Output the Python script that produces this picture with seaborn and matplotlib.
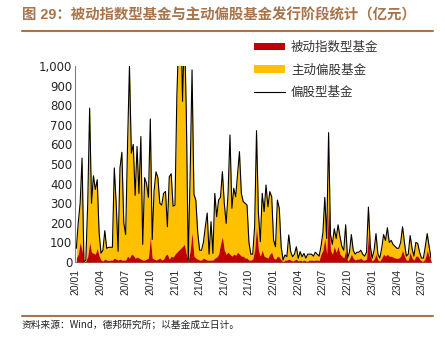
import numpy as np
import pandas as pd
import matplotlib
matplotlib.use("Agg")
import matplotlib.pyplot as plt
import matplotlib.dates as mdates
from matplotlib.patches import Patch
from matplotlib.lines import Line2D
from matplotlib.ticker import FuncFormatter, MultipleLocator
import seaborn as sns

# ---------------- data (weekly, 亿元) ----------------
start_date = "2020-01-03"
equity_total = [
    70, 200, 300, 530, 0, 10, 300, 785, 300, 440,
    370, 420, 150, 45, 60, 160, 70, 75, 75, 75,
    480, 300, 55, 480, 560, 200, 140, 600, 1000, 555,
    600, 340, 590, 350, 640, 90, 430, 400, 330, 730,
    115, 365, 460, 430, 300, 290, 350, 360, 180, 435,
    450, 285, 290, 850, 1150, 1300, 820, 1200, 750, 10,
    450, 980, 345, 316, 150, 60, 60, 100, 180, 250,
    40, 206, 44, 350, 231, 316, 330, 461, 300, 197,
    350, 648, 274, 376, 333, 450, 563, 350, 308, 300,
    290, 100, 40, 40, 180, 670, 250, 104, 350, 257,
    393, 282, 359, 333, 112, 78, 316, 274, 78, 10,
    36, 27, 138, 53, 27, 40, 78, 19, 53, 27,
    44, 20, 40, 40, 40, 30, 50, 40, 30, 80,
    150, 330, 120, 660, 140, 90, 170, 120, 190, 130,
    80, 60, 190, 20, 50, 140, 60, 40, 50, 50,
    60, 40, 30, 50, 280, 80, 20, 60, 145, 40,
    20, 70, 140, 110, 175, 100, 110, 90, 80, 70,
    70, 100, 180, 100, 30, 40, 135, 70, 30, 100,
    95, 50, 20, 20, 80, 145, 80, 20,
]
passive_index = [
    20, 40, 100, 60, 0, 5, 30, 100, 50, 45,
    40, 70, 30, 10, 5, 15, 10, 8, 10, 10,
    20, 15, 10, 15, 10, 10, 10, 30, 20, 40,
    35, 20, 25, 20, 15, 10, 10, 15, 20, 130,
    20, 15, 10, 15, 20, 10, 15, 35, 40, 15,
    30, 25, 40, 50, 60, 70, 80, 90, 40, 5,
    60, 150, 30, 20, 15, 10, 10, 20, 15, 10,
    10, 10, 10, 20, 25, 40, 90, 130, 60, 40,
    50, 40, 30, 40, 35, 50, 40, 30, 30, 20,
    20, 10, 10, 15, 60, 180, 60, 30, 60, 30,
    25, 20, 40, 50, 20, 15, 30, 25, 10, 2,
    10, 10, 15, 10, 5, 10, 15, 5, 10, 5,
    10, 5, 5, 10, 10, 8, 10, 10, 8, 40,
    60, 120, 40, 300, 60, 40, 80, 50, 80, 40,
    30, 20, 60, 5, 15, 40, 20, 10, 15, 15,
    20, 10, 10, 15, 140, 30, 5, 15, 40, 10,
    5, 20, 40, 30, 40, 30, 30, 25, 20, 20,
    20, 30, 60, 30, 10, 10, 50, 20, 10, 30,
    30, 15, 5, 5, 20, 60, 30, 5,
]
tick_dates = pd.date_range("2020-01-01", "2023-07-01", freq="QS")
tick_labels = [d.strftime("%y/%m") for d in tick_dates]
series_names = ["被动指数型基金", "主动偏股基金", "偏股型基金"]
title = "图 29：被动指数型基金与主动偏股基金发行阶段统计（亿元）"
footnote = "资料来源：Wind，德邦研究所；以基金成立日计。"

# ---------------- styling ----------------
sns.set_style("white")
plt.rcParams["font.family"] = ["Liberation Sans", "Noto Sans CJK SC", "DejaVu Sans"]
RED = "#C00000"
YELLOW = "#FFC000"
BROWN = "#A8744B"
GRAY = "#808080"

total = np.array(equity_total, dtype=float)
passive = np.minimum(np.array(passive_index, dtype=float), total)
dates = pd.date_range(start_date, periods=len(total), freq="7D")
df = pd.DataFrame({"date": dates, "total": total, "passive": passive})

W, H = 445, 348
fig = plt.figure(figsize=(W / 100, H / 100), dpi=100)
ax = fig.add_axes([75 / W, 1 - 262 / H, (431 - 75) / W, (262 - 66) / H])

ax.fill_between(df["date"], 0, df["passive"], color=RED, lw=0, zorder=3)
ax.fill_between(df["date"], df["passive"], df["total"], color=YELLOW, lw=0, zorder=2)
sns.lineplot(data=df, x="date", y="total", color="black", lw=0.8, ax=ax, zorder=4)

ax.set_ylim(0, 1000)
ax.set_xlim(pd.Timestamp("2019-12-29"), dates[-1])
ax.yaxis.set_major_locator(MultipleLocator(100))
ax.yaxis.set_major_formatter(FuncFormatter(lambda v, p: f"{int(v):,}"))
ax.set_xticks(tick_dates)
ax.set_xticklabels(tick_labels, rotation=90, fontsize=7.5)
for lab in ax.get_yticklabels():
    lab.set_fontsize(8.5)
    lab.set_family("DejaVu Sans")
ax.tick_params(axis="y", length=0, pad=2)
ax.tick_params(axis="x", length=3, width=0.8, color=GRAY, pad=2)
ax.set_xlabel("")
ax.set_ylabel("")
for s in ["top", "right"]:
    ax.spines[s].set_visible(False)
for s in ["left", "bottom"]:
    ax.spines[s].set_color(GRAY)
    ax.spines[s].set_linewidth(0.8)
ax.grid(False)

handles = [
    Patch(facecolor=RED, edgecolor="none"),
    Patch(facecolor=YELLOW, edgecolor="none"),
    Line2D([0], [0], color="black", lw=0.8),
]
leg = fig.legend(handles, series_names, loc="upper left",
                 bbox_to_anchor=(254 / W, 1 - 41 / H), bbox_transform=fig.transFigure,
                 frameon=False, fontsize=9, handlelength=2.5, handleheight=0.55,
                 handletextpad=0.45, labelspacing=0.75, borderpad=0, borderaxespad=0,
                 prop={"family": ["Noto Sans CJK SC"], "size": 9})
for t in leg.get_texts():
    t.set_color("#333333")

fig.text(22 / W, 1 - 15 / H, title, color=BROWN, fontsize=10.4, fontweight="bold",
         va="center", ha="left")
fig.add_artist(Line2D([22 / W, 433 / W], [1 - 30.7 / H] * 2, transform=fig.transFigure,
                      color=BROWN, lw=1.5))
fig.add_artist(Line2D([22 / W, 433 / W], [1 - 315.7 / H] * 2, transform=fig.transFigure,
                      color=BROWN, lw=1.5))
fig.text(22 / W, 1 - 324 / H, footnote, fontsize=7, va="center", ha="left",
         family=["Noto Sans CJK SC", "DejaVu Sans"], color="#222222")

fig.savefig("out.png", dpi=100)
